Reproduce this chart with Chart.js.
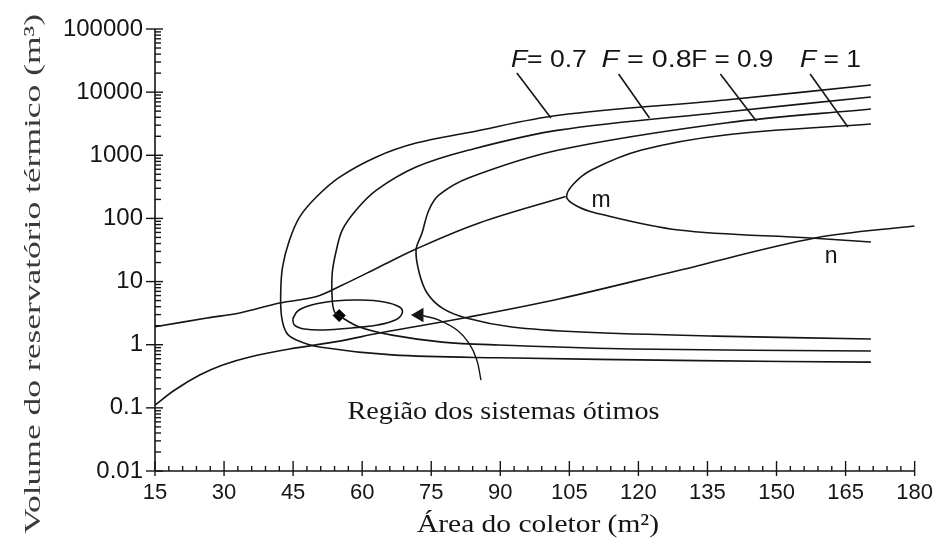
<!DOCTYPE html>
<html><head><meta charset="utf-8">
<script src="https://cdn.jsdelivr.net/npm/chart.js@4.4.0/dist/chart.umd.min.js"></script>
<style>html,body{margin:0;padding:0;background:#fff}canvas{display:block}</style>
</head><body>
<canvas id="c" width="942" height="547" style="width:942px;height:547px"></canvas>
<script>
// ---- tick values / labels ----
const xTickValues = [15,30,45,60,75,90,105,120,135,150,165,180];
const yTickValues = [0.01,0.1,1,10,100,1000,10000,100000];
const yTickLabels = ['0.01','0.1','1','10','100','1000','10000','100000'];

// ---- F contour curves (Área, Volume) ----
const f07X = [170.5,138.9,102.7,83.2,71.7,63.1,55.1,50.1,46.4,44.2,42.7,42.3,42.5,43.6,45.7,50.7,66.5,89.7,133,170.5];
const f07Y = [13000,7500,4300,2300,1560,940,450,220,105,45,17,6.6,2.75,1.53,1.19,0.92,0.69,0.62,0.56,0.53];
const f08X = [170.5,138.9,102.7,83.2,71.7,63.1,58.7,55.7,54.4,53.5,53.5,54.0,55.1,59.4,66.5,77.4,89.7,118.5,170.5];
const f08Y = [8400,4850,2500,1210,650,280,136,66,31.6,13.7,5.1,3.3,2.85,1.91,1.42,1.10,0.99,0.855,0.795];
const f09X = [170.5,138.9,102.7,83.2,76.7,74.5,73.0,71.7,72.4,74.1,77.4,82.6,92.5,107.7,136.7,170.5];
const f09Y = [5400,3250,1210,440,235,136,58.7,31.6,13.7,6.6,3.8,2.65,1.91,1.59,1.37,1.23];
const f10X = [170.5,138.9,120.7,109.8,105.9,104.4,106.6,110.7,128.7,157.5,170.5];
const f10Y = [3130,2100,1210,585,351,218,157,122,65.6,49,42.3];

// ---- m and n lines ----
const mLineX = [15,26.3,33.4,42.1,50.1,55.7,63.7,71.7,85.4,104.2];
const mLineY = [1.92,2.65,3.18,4.58,5.8,8.8,17,32.8,84.6,222];
const nLineX = [15,19.3,24.7,29.7,35.6,44.2,55.1,63.7,83.2,102.7,128.7,158.4,180];
const nLineY = [0.111,0.192,0.331,0.477,0.639,0.855,1.14,1.53,2.75,5.3,15,49,76];

// ---- optimal-region loop, optimum point, arrow ----
const loopX = [44.9,46.0,49.0,54.0,59.4,64.8,68.1,68.7,67.2,63.3,57.7,51.8,47.5,45.3,44.9];
const loopY = [2.55,3.42,4.25,4.92,5.10,4.75,3.95,3.18,2.46,2.05,1.84,1.71,1.77,2.05,2.55];
const optimumX = [55];
const optimumY = [2.9];
const arrowX = [85.8,84.9,83.2,80.6,76.7,73.5,72.4];
const arrowY = [0.276,0.573,1.06,1.71,2.46,2.85,2.95];

// ---- label leader lines ----
const lead07X = [93.6,101.0], lead07Y = [20100,3890];
const lead08X = [115.7,122.4], lead08Y = [19400,3890];
const lead09X = [137.8,145.6], lead09Y = [19400,3490];
const lead10X = [157.3,165.5], lead10Y = [19400,2800];

const INK = '#151515';
const pts = (xs, ys) => xs.map((v,i)=>({x:v, y:ys[i]}));
const curve = (xs, ys, t) => ({data: pts(xs,ys), showLine:true, borderColor:INK, borderWidth:1.6, pointRadius:0, tension: t, fill:false});

function drawFit(ctx, segs, x, y, targetW, baseFont, rotate, color) {
  ctx.save();
  let w = 0;
  segs.forEach(s => { ctx.font = s.font || baseFont; w += ctx.measureText(s.t).width; });
  const sx = targetW ? targetW / w : 1;
  ctx.translate(x, y);
  if (rotate) ctx.rotate(rotate);
  ctx.scale(sx, 1);
  let cx = 0;
  ctx.fillStyle = color || INK; ctx.textBaseline = 'alphabetic'; ctx.textAlign = 'left';
  segs.forEach(s => { ctx.font = s.font || baseFont; ctx.fillText(s.t, cx, 0); cx += ctx.measureText(s.t).width; });
  ctx.restore();
}

const decor = {
  id: 'decor',
  beforeDraw(chart) {
    const c = chart.ctx; c.save(); c.fillStyle = '#fff'; c.fillRect(0,0,chart.width,chart.height); c.restore();
  },
  afterDraw(chart) {
    const {ctx, chartArea: a, scales: {x, y}} = chart;
    ctx.save();
    ctx.strokeStyle = INK; ctx.lineWidth = 1.6;
    const seg = (x1,y1,x2,y2)=>{ctx.beginPath();ctx.moveTo(x1,y1);ctx.lineTo(x2,y2);ctx.stroke();};
    seg(a.left, a.top, a.left, a.bottom);
    seg(a.left, a.bottom, a.right, a.bottom);
    ctx.lineWidth = 1.4;
    yTickValues.forEach(v => { const p = y.getPixelForValue(v); seg(a.left-9, p, a.left+8, p); });
    for (let e = -2; e < 5; e++) for (let k = 2; k < 10; k++) {
      const p = y.getPixelForValue(k * Math.pow(10, e)); seg(a.left, p, a.left + 6, p);
    }
    xTickValues.forEach(v => { const p = x.getPixelForValue(v); seg(p, a.bottom + 5, p, a.bottom - 10); });
    for (let v = 18; v < 180; v += 3) {
      if ((v - 15) % 15 === 0) continue;
      const p = x.getPixelForValue(v); seg(p, a.bottom, p, a.bottom - 5);
    }
    ctx.restore();

    const sans = '24px "Liberation Sans", Arial, sans-serif';
    const sansI = 'italic 24px "Liberation Sans", Arial, sans-serif';
    const X = v => x.getPixelForValue(v), Y = v => y.getPixelForValue(v);
    drawFit(ctx, [{t:'F',font:sansI},{t:'= 0.7'}], X(92.3), Y(25000), 76, sans);
    drawFit(ctx, [{t:'F',font:sansI},{t:' = 0.8'}], X(112.0), Y(25000), 90, sans);
    drawFit(ctx, [{t:'F = 0.9'}], X(131.5), Y(25000), 82, sans);
    drawFit(ctx, [{t:'F',font:sansI},{t:' = 1'}], X(155.1), Y(25000), 61, sans);
    drawFit(ctx, [{t:'m'}], X(109.8), Y(151.7), 0, '23px "Liberation Sans", Arial, sans-serif');
    drawFit(ctx, [{t:'n'}], X(160.5), Y(19.7), 0, '23px "Liberation Sans", Arial, sans-serif');
    const serif = '26px "Liberation Serif", "Times New Roman", serif';
    drawFit(ctx, [{t:'Região dos sistemas ótimos'}], X(56.8), Y(0.0666), 312, serif);
    drawFit(ctx, [{t:'Área do coletor (m²)'}], 417, 532, 242, serif);
    drawFit(ctx, [{t:'Volume do reservatório térmico (m³)'}], 40, 534, 520, '23px "Liberation Serif", "Times New Roman", serif', -Math.PI/2, '#3a3a3a');
  }
};

new Chart(document.getElementById('c'), {
  type: 'scatter',
  data: {
    datasets: [
      curve(f07X, f07Y, 0.35),
      curve(f08X, f08Y, 0.35),
      curve(f09X, f09Y, 0.35),
      curve(f10X, f10Y, 0.35),
      curve(mLineX, mLineY, 0.35),
      curve(nLineX, nLineY, 0.35),
      curve(loopX, loopY, 0.4),
      curve(lead07X, lead07Y, 0),
      curve(lead08X, lead08Y, 0),
      curve(lead09X, lead09Y, 0),
      curve(lead10X, lead10Y, 0),
      {data: pts(arrowX, arrowY), showLine:true, borderColor:INK, borderWidth:1.4, tension:0.35,
       pointRadius: arrowX.map((v,i)=> i===arrowX.length-1 ? 7 : 0),
       pointStyle:'triangle', rotation:-90, pointBackgroundColor:INK, pointBorderColor:INK},
      {data: pts(optimumX, optimumY), showLine:false, pointStyle:'rectRot', pointRadius:6,
       pointBackgroundColor:'#000', pointBorderColor:'#000'}
    ]
  },
  options: {
    responsive: false, animation: false, devicePixelRatio: 1,
    layout: {padding: {top: 29, right: 25, left: 0, bottom: 0}},
    plugins: {legend: {display:false}, tooltip: {enabled:false}},
    scales: {
      x: {
        type: 'linear', min: 15, max: 180,
        grid: {display:false, drawTicks:false}, border: {display:false},
        afterBuildTicks: s => { s.ticks = xTickValues.map(v => ({value: v})); },
        afterFit: s => { s.height = 76; },
        ticks: {padding: 9, color: INK, font: {family: '"Liberation Sans", Arial, sans-serif', size: 22}, maxRotation: 0, autoSkip: false,
                callback: v => String(v)}
      },
      y: {
        type: 'logarithmic', min: 0.01, max: 100000,
        grid: {display:false, drawTicks:false}, border: {display:false},
        afterBuildTicks: s => { s.ticks = yTickValues.map(v => ({value: v})); },
        afterFit: s => { s.width = 155; },
        ticks: {padding: 12, color: INK, font: {family: '"Liberation Sans", Arial, sans-serif', size: 24}, autoSkip: false,
                callback: (v) => yTickLabels[yTickValues.findIndex(t => Math.abs(t - v) / t < 1e-6)]}
      }
    }
  },
  plugins: [decor]
});
</script>
</body></html>
